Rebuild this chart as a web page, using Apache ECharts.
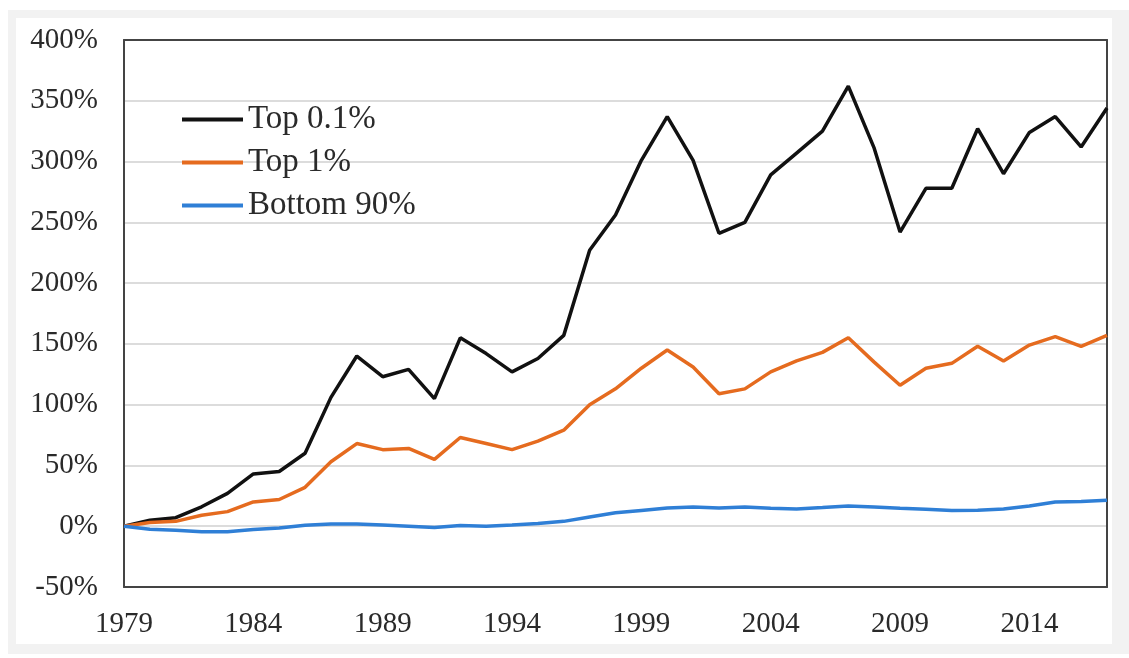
<!DOCTYPE html>
<html>
<head>
<meta charset="utf-8">
<script src="https://cdn.jsdelivr.net/npm/echarts@6/dist/echarts.min.js"></script>
<style>
body { margin: 0; background: #fff; }
#frame { position: absolute; left: 8px; top: 10px; width: 1121px; height: 644px; background: #f2f2f2; }
#chart { position: absolute; left: 16px; top: 18px; width: 1096px; height: 626px; background: #fff; }
</style>
</head>
<body>
<div id="frame"></div>
<div id="chart"></div>
<script>
var years = [];
for (var y = 1979; y <= 2017; y++) {
	years.push(String(y));
}
var top01 = [0, 5, 7, 16, 27, 43, 45, 60, 106, 140, 123, 129, 105, 155, 142, 127, 138, 157, 227, 256, 301,
	337, 301, 241, 250, 289, 307, 325, 362, 311, 242, 278, 278, 327, 290, 324, 337, 312, 344];
var top1 = [0, 3, 4, 9, 12, 20, 22, 32, 53, 68, 63, 64, 55, 73, 68, 63, 70, 79, 100, 113, 130,
	145, 131, 109, 113, 127, 136, 143, 155, 135, 116, 130, 134, 148, 136, 149, 156, 148, 157];
var bottom90 = [0, -2.5, -3.3, -4.5, -4.5, -2.7, -1.4, 0.8, 1.9, 1.9, 1, 0, -1.1, 0.5, 0, 1, 2.2, 4, 7.6, 11, 13,
	15, 15.8, 15, 15.8, 14.8, 14.2, 15.4, 16.7, 15.8, 14.8, 14, 13, 13.2, 14.2, 16.7, 20, 20.3, 21.4];

var chart = echarts.init(document.getElementById('chart'));
var font = '"Liberation Serif", "Times New Roman", serif';
var frameLine = { show: true, onZero: false, lineStyle: { color: '#444', width: 2 } };
var option = {
	animation: false,
	backgroundColor: '#fff',
	grid: {
		left: 108,
		top: 22,
		right: 5,
		bottom: 57
	},
	legend: {
		orient: 'vertical',
		left: 161,
		top: 80,
		icon: 'rect',
		itemWidth: 61,
		itemHeight: 4,
		itemGap: 10,
		textStyle: { fontFamily: font, fontSize: 33, color: '#2a2a2a' },
		data: ['Top 0.1%', 'Top 1%', 'Bottom 90%']
	},
	xAxis: [{
		type: 'category',
		boundaryGap: false,
		data: years,
		axisLine: frameLine,
		axisTick: { show: false },
		axisLabel: { interval: 4, margin: 23, fontFamily: font, fontSize: 29, color: '#2a2a2a' },
		splitLine: { show: false }
	}, {
		type: 'category',
		position: 'top',
		boundaryGap: false,
		data: years,
		axisLine: frameLine,
		axisTick: { show: false },
		axisLabel: { show: false }
	}],
	yAxis: [{
		type: 'value',
		min: -50,
		max: 400,
		interval: 50,
		axisLine: frameLine,
		axisTick: { show: false },
		axisLabel: { formatter: '{value}%', margin: 26, fontFamily: font, fontSize: 29, color: '#2a2a2a' },
		splitLine: { lineStyle: { color: '#dcdcdc', width: 2 } }
	}, {
		type: 'value',
		position: 'right',
		min: -50,
		max: 400,
		interval: 50,
		axisLine: frameLine,
		axisTick: { show: false },
		axisLabel: { show: false },
		splitLine: { show: false }
	}],
	series: [{
		name: 'Top 0.1%',
		type: 'line',
		data: top01,
		symbol: 'none',
		color: '#111',
		lineStyle: { width: 3.5 }
	}, {
		name: 'Top 1%',
		type: 'line',
		data: top1,
		symbol: 'none',
		color: '#e56b1f',
		lineStyle: { width: 3.5 }
	}, {
		name: 'Bottom 90%',
		type: 'line',
		data: bottom90,
		symbol: 'none',
		color: '#2f7fd6',
		lineStyle: { width: 3.5 }
	}]
};
chart.setOption(option);
window.onresize = chart.resize;
</script>
</body>
</html>
